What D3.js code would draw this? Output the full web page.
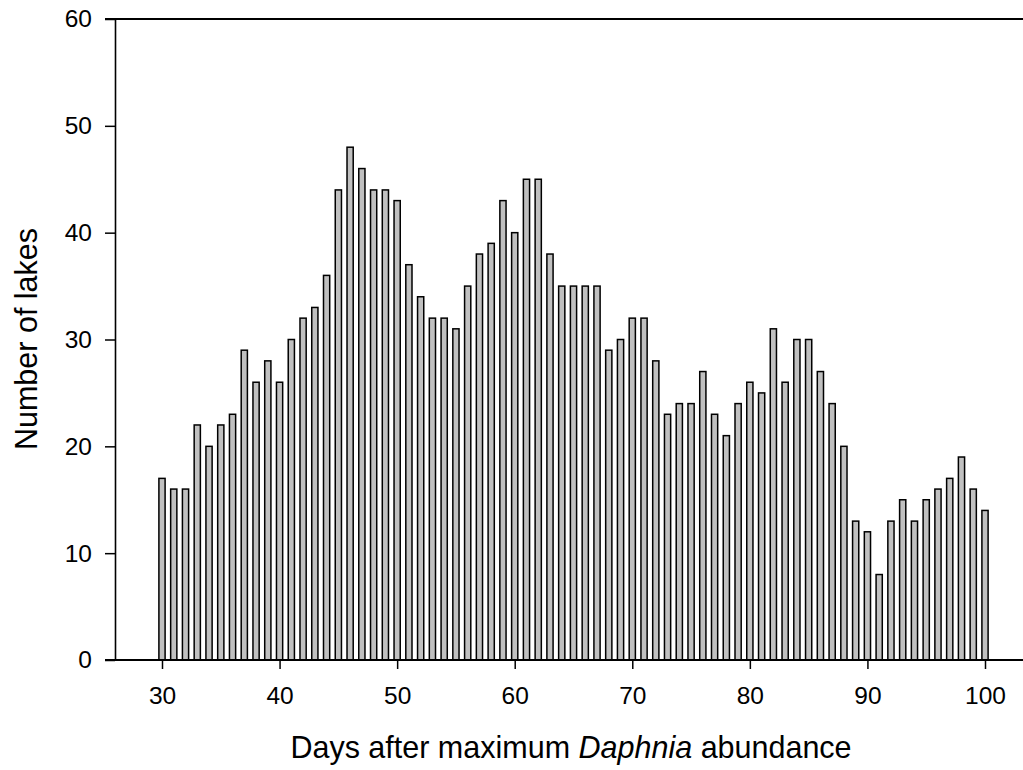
<!DOCTYPE html>
<html>
<head>
<meta charset="utf-8">
<script src="https://cdn.jsdelivr.net/npm/d3@7"></script>
<style>
  html, body { margin: 0; padding: 0; background: #fff; }
  svg { display: block; font-family: "Liberation Sans", Arial, sans-serif; }
</style>
</head>
<body>
<svg id="chart" width="1023" height="770"></svg>
<script>
// ---- data ----
const days = d3.range(30, 101);
const lakes = [
  17,16,16,22,20,22,23,29,26,28,
  26,30,32,33,36,44,48,46,44,44,
  43,37,34,32,32,31,35,38,39,43,
  40,45,45,38,35,35,35,35,29,30,
  32,32,28,23,24,24,27,23,21,24,
  26,25,31,26,30,30,27,24,20,13,
  12,8,13,15,13,15,16,17,19,16,
  14
];
const xTicks = [30, 40, 50, 60, 70, 80, 90, 100];
const yTicks = [0, 10, 20, 30, 40, 50, 60];
const xTitleA = "Days after maximum ";
const xTitleItalic = "Daphnia";
const xTitleB = " abundance";
const yTitle = "Number of lakes";

// ---- layout ----
const svg = d3.select("#chart");
const x = d3.scaleLinear().domain([30, 100]).range([162, 985]);
const y = d3.scaleLinear().domain([0, 60]).range([660, 19]);
const axisLeftX = 115, axisRightX = 1023;
const barW = 6.2;

// bars
svg.append("g").selectAll("rect")
  .data(days.map((d, i) => ({ day: d, v: lakes[i] })))
  .join("rect")
  .attr("x", d => x(d.day) - barW / 2)
  .attr("y", d => y(d.v))
  .attr("width", barW)
  .attr("height", d => y(0) - y(d.v))
  .attr("fill", "#c0c0c0")
  .attr("stroke", "#000")
  .attr("stroke-width", 1.5);

// y axis
const yAxis = svg.append("g")
  .attr("transform", `translate(${axisLeftX},0)`)
  .call(d3.axisLeft(y).tickValues(yTicks).tickSize(10).tickSizeOuter(0).tickPadding(13));
yAxis.select(".domain").attr("stroke-width", 1.6);
yAxis.selectAll(".tick line").attr("stroke-width", 1.5);
yAxis.selectAll("text").attr("font-size", 24.5).attr("fill", "#000")
  .attr("font-family", "'Liberation Sans', Arial, sans-serif");

// x axis
const xAxis = svg.append("g")
  .attr("transform", `translate(0,${y(0)})`)
  .call(d3.axisBottom(x).tickValues(xTicks).tickSize(9).tickSizeOuter(0).tickPadding(18));
xAxis.select(".domain").remove();
xAxis.selectAll(".tick line").attr("stroke-width", 1.5);
xAxis.selectAll("text").attr("font-size", 24.5).attr("fill", "#000")
  .attr("font-family", "'Liberation Sans', Arial, sans-serif");

// frame lines (bottom and top) extending to the right edge
svg.append("line")
  .attr("x1", axisLeftX - 10).attr("x2", axisRightX)
  .attr("y1", y(0)).attr("y2", y(0))
  .attr("stroke", "#000").attr("stroke-width", 1.8);
svg.append("line")
  .attr("x1", axisLeftX - 10).attr("x2", axisRightX)
  .attr("y1", y(60)).attr("y2", y(60))
  .attr("stroke", "#000").attr("stroke-width", 1.8);

// titles
const xt = svg.append("text")
  .attr("x", 571).attr("y", 758)
  .attr("text-anchor", "middle")
  .attr("font-size", 30.5).attr("fill", "#000");
xt.append("tspan").text(xTitleA);
xt.append("tspan").attr("font-style", "italic").text(xTitleItalic);
xt.append("tspan").text(xTitleB);

svg.append("text")
  .attr("transform", "translate(37,339) rotate(-90)")
  .attr("text-anchor", "middle")
  .attr("font-size", 30.5).attr("fill", "#000")
  .text(yTitle);
</script>
</body>
</html>
